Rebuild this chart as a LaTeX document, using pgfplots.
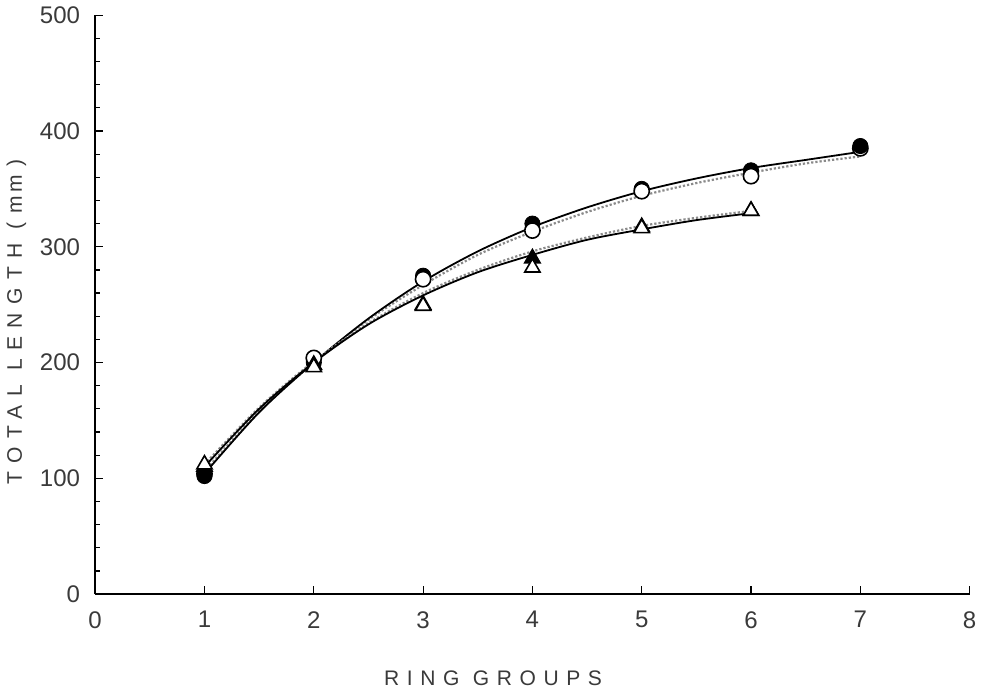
\documentclass[border=0pt]{standalone}
\usepackage{pgfplots}
\pgfplotsset{compat=1.18}
\usepackage{fontspec}
\setmainfont{Liberation Sans}
\definecolor{txt}{HTML}{3A3A3A}
\definecolor{dotg}{HTML}{8A8A8A}
\begin{document}
\begin{tikzpicture}
\begin{axis}[
  scale only axis, width=436.5pt, height=289pt,
  xmin=0, xmax=8, ymin=0, ymax=500,
  axis lines=left, axis line style={-, black, line width=0.8pt},
  xtick={0,...,8}, ytick={0,100,...,500},
  minor y tick num=4,
  tick align=inside,
  major tick length=4pt, minor tick length=2.5pt,
  tick style={black, line width=0.6pt},
  x tick label style={font=\fontsize{12}{14}\selectfont, text=txt, yshift=-5pt},
  y tick label style={font=\fontsize{12}{14}\selectfont, text=txt, xshift=-4pt},
  /pgf/number format/assume math mode=true,
  xlabel={\addfontfeature{LetterSpace=36}RING GROUPS},
  ylabel={\addfontfeature{LetterSpace=40}TOTAL LENGTH (m\,m)},
  xlabel style={font=\fontsize{10.5}{12}\selectfont, text=txt, at={(axis description cs:0.455,-0.145)}, anchor=center},
  ylabel style={font=\fontsize{10.5}{12}\selectfont, text=txt, at={(axis description cs:-0.09,0.47)}, anchor=center},
  clip=false,
]
% fitted curves
\addplot[dotg, densely dotted, line width=1.1pt, smooth] coordinates {
(1,106) (1.5,158) (2,200) (2.5,237) (3,267) (3.5,293) (4,313) (4.5,330) (5,344) (5.5,355) (6,364) (6.5,372) (7,378)};
\addplot[black, line width=0.9pt, smooth] coordinates {
(1,104) (1.5,157) (2,200) (2.5,238) (3,270) (3.5,296) (4,317) (4.5,334) (5,348) (5.5,359) (6,368) (6.5,375) (7,382)};
\addplot[dotg, densely dotted, line width=1.1pt, smooth] coordinates {
(1,112) (1.5,161) (2,201) (2.5,234) (3,260) (3.5,280) (4,296) (4.5,308) (5,318) (5.5,325) (6,331)};
\addplot[black, line width=0.9pt, smooth] coordinates {
(1,110) (1.5,160) (2,200) (2.5,233) (3,258) (3.5,278) (4,293) (4.5,306) (5,315) (5.5,323) (6,329)};
% filled circles
\addplot[only marks, mark=*, mark size=3.8pt, mark options={fill=black, draw=black}] coordinates {
(2,200) (3,275) (4,320) (5,350) (6,366)};
% open circles
\addplot[only marks, mark=*, mark size=3.8pt, mark options={fill=white, draw=black, line width=0.8pt}] coordinates {
(1,104) (2,204) (3,272) (4,314) (5,348) (6,361) (7,385)};
% filled circles drawn on top in the figure
\addplot[only marks, mark=*, mark size=3.8pt, mark options={fill=black, draw=black}] coordinates {
(1,102) (7,387)};
% filled triangles
\addplot[only marks, mark=triangle*, mark size=4.4pt, mark options={fill=black, draw=black, line width=0.8pt}] coordinates {
(1,110) (2,198) (3,250) (4,290) (5,317) (6,331)};
% open triangles
\addplot[only marks, mark=triangle*, mark size=4.4pt, mark options={fill=white, draw=black, line width=0.8pt}] coordinates {
(1,112) (2,196) (3,249) (4,282) (5,316) (6,331)};
\end{axis}
\end{tikzpicture}
\end{document}
